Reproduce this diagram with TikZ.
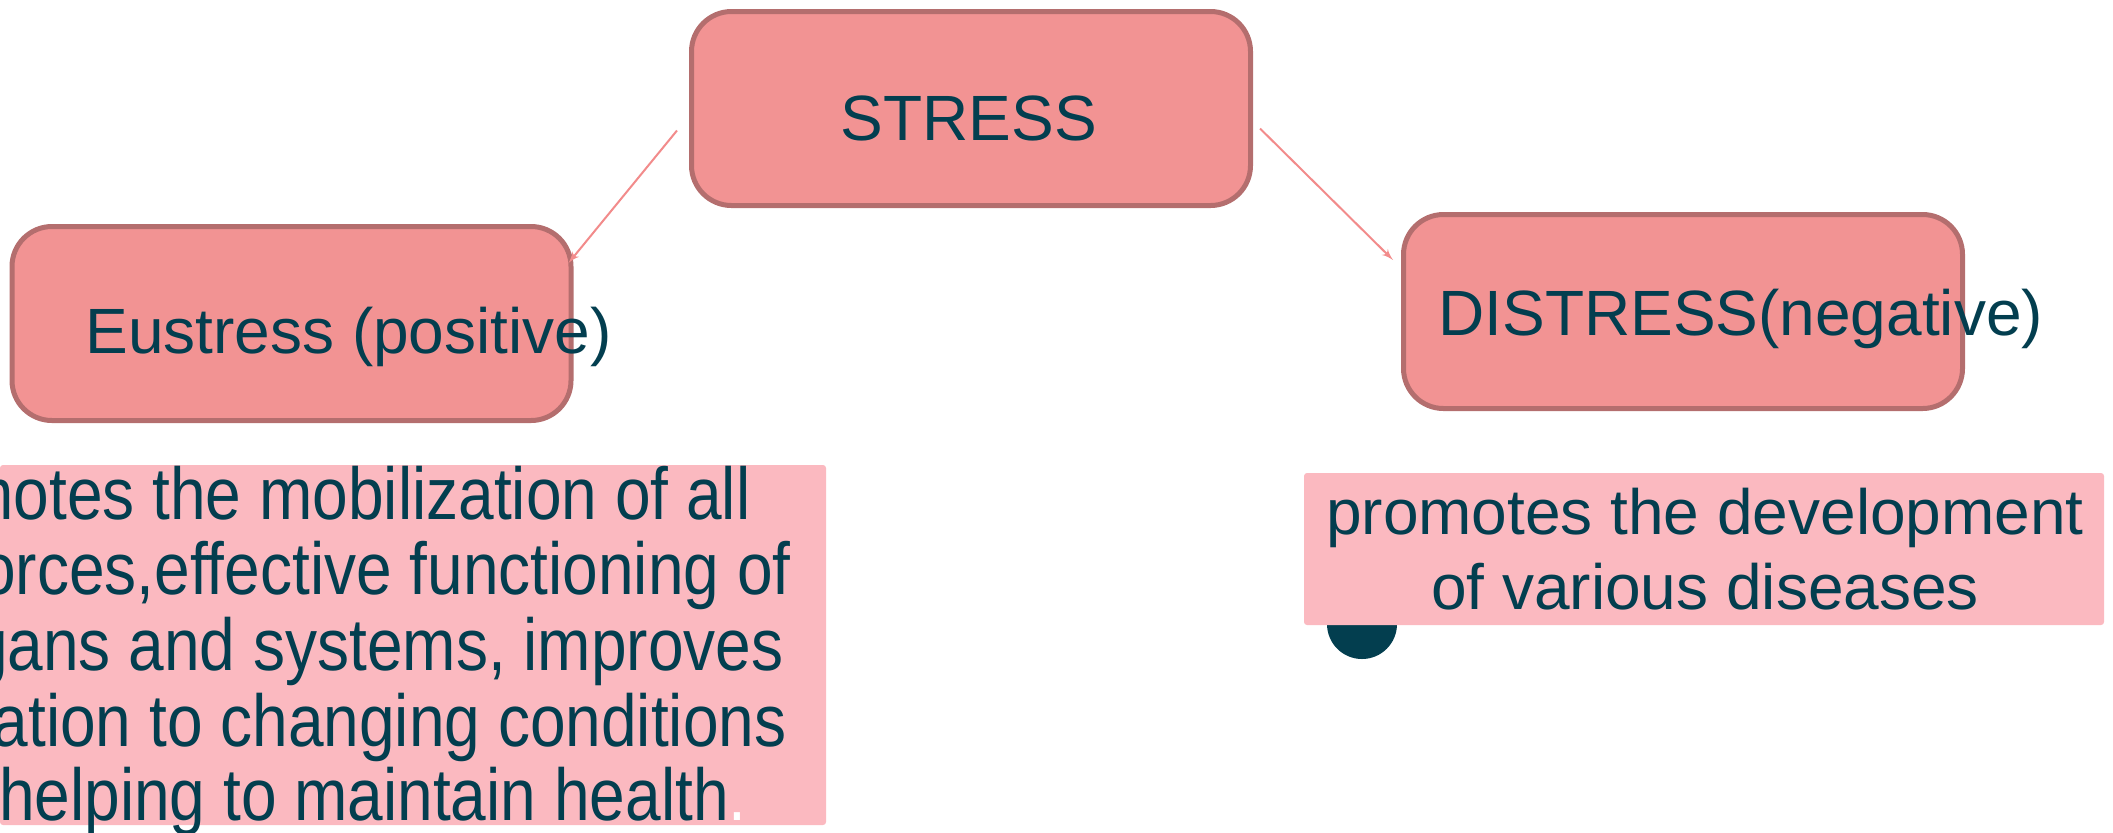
\documentclass[tikz,border=0pt]{standalone}
\usepackage{fontspec}
\setmainfont{Liberation Sans}
\newfontfamily\tallfont[FakeStretch=0.87]{Liberation Sans}
\usetikzlibrary{shapes,arrows}
\definecolor{boxfill}{HTML}{F29393}
\definecolor{boxline}{HTML}{B46E6E}
\definecolor{notefill}{HTML}{FBB9C0}
\definecolor{inkteal}{HTML}{033E4F}
\definecolor{linkred}{HTML}{F28B8B}
\tikzstyle{block} = [rectangle, draw=boxline, fill=boxfill, line width=2.5pt,
    rounded corners=20pt, minimum width=279.5pt, minimum height=97pt, inner sep=0pt]
\tikzstyle{note} = [rectangle, fill=notefill, rounded corners=1.5pt, inner sep=0pt]
\tikzstyle{word} = [text=inkteal, font=\fontsize{32}{37.5}\selectfont, inner sep=0pt]
\tikzstyle{tallword} = [word, font=\tallfont\fontsize{36.8}{37.5}\selectfont, anchor=base east]
\tikzstyle{line} = [draw=linkred, line width=1pt, -latex']

\begin{document}
\begin{tikzpicture}[x=0.5pt, y=-0.5pt]
	\useasboundingbox (0,0) rectangle (2113,832);
	\clip (0,0) rectangle (2113,832);

		\node [block] (stress) at (971,108.5) {};
		\node [block] (eustress) at (291.5,323.5) {};
		\node [block] (distress) at (1683,311.5) {};

		\node [word, anchor=base] (stresslabel) at (969,140) {STRESS};
		\node [word, anchor=base west] (eustresslabel) at (85,353) {Eustress (positive)};
		\node [word, anchor=base west] (distresslabel) at (1438,335) {DISTRESS(negative)};

		\path [line] ([shift={(-12,22)}]stress.west) -- ([shift={(-5,39)}]eustress.north east);
		\path [line] ([shift={(7,20)}]stress.east) -- ([shift={(-8,48)}]distress.north west);

		\node [circle, fill=inkteal, minimum size=35pt, inner sep=0pt] (dot) at (1362,624) {};

		\node [note, minimum width=413pt, minimum height=180pt] (goodnote) at (413,645) {};
		\node [note, minimum width=400pt, minimum height=76pt] (badnote) at (1704,549) {};

		% eustress text, one line at a time
		\node [tallword] (goodline1) at (751,519) {promotes the mobilization of all};
		\node [tallword] (goodline2) at (791,594) {forces,effective functioning of};
		\node [tallword] (goodline3) at (784,670) {organs and systems, improves};
		\node [tallword] (goodline4) at (787,746) {adaptation to changing conditions};
		\node [tallword] (goodline5) at (747,820) {helping to maintain health\textcolor{white}{.}};

		\node [word, align=center, anchor=north] (badtext) at (1705,488)
			{promotes the development\\of various diseases};
	\end{tikzpicture}
\end{document}
